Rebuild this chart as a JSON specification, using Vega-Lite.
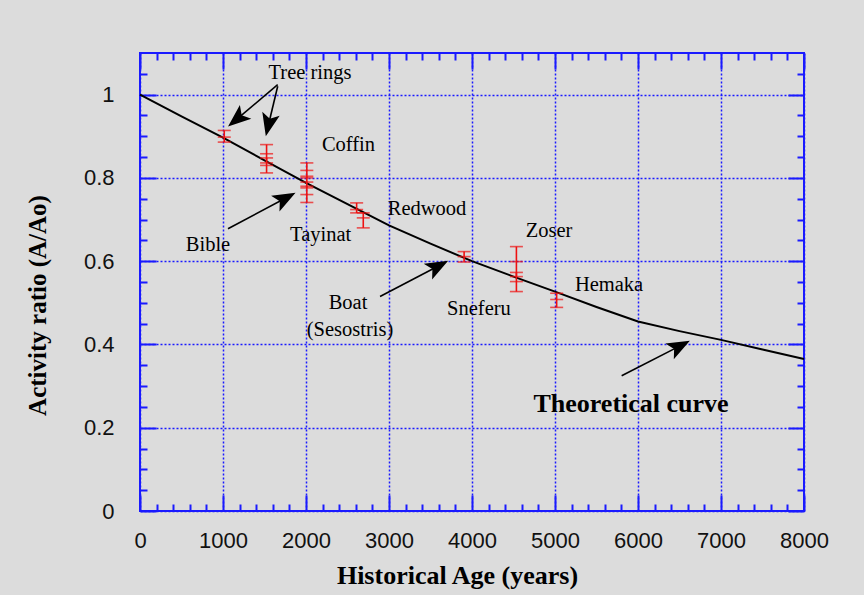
{
  "$schema": "https://vega.github.io/schema/vega-lite/v6.json",
  "width": 664,
  "height": 458,
  "autosize": "none",
  "padding": {"left": 140, "top": 53, "right": 60, "bottom": 84},
  "background": "#dcdcdc",
  "config": {
    "view": {"stroke": "#1a1aff", "strokeWidth": 2},
    "axis": {"labelFont": "Liberation Sans", "labelFontSize": 22, "labelColor": "#111111", "labelOverlap": false, "labelFlush": false, "tickColor": "#1a1aff", "tickWidth": 2, "domain": false, "grid": false, "title": null}
  },
  "datasets": {
    "curve": [
      {"age": 0, "ratio": 1.0}, {"age": 500, "ratio": 0.948}, {"age": 1000, "ratio": 0.897}, {"age": 1500, "ratio": 0.842},
      {"age": 2000, "ratio": 0.788}, {"age": 2500, "ratio": 0.737}, {"age": 3000, "ratio": 0.686}, {"age": 3500, "ratio": 0.642},
      {"age": 4000, "ratio": 0.600}, {"age": 4500, "ratio": 0.563}, {"age": 5000, "ratio": 0.527}, {"age": 5500, "ratio": 0.490},
      {"age": 6000, "ratio": 0.455}, {"age": 6500, "ratio": 0.432}, {"age": 7000, "ratio": 0.411}, {"age": 7500, "ratio": 0.388},
      {"age": 8000, "ratio": 0.365}
    ],
    "samples": [
      {"name": "Tree ring", "t": 1015, "v": 0.898, "lo": 0.886, "hi": 0.914},
      {"name": "Tree ring", "t": 1525, "v": 0.858, "lo": 0.836, "hi": 0.880},
      {"name": "Tree ring", "t": 1525, "v": 0.830, "lo": 0.812, "hi": 0.848},
      {"name": "Coffin", "t": 2010, "v": 0.818, "lo": 0.800, "hi": 0.836},
      {"name": "Bible", "t": 2010, "v": 0.790, "lo": 0.776, "hi": 0.804},
      {"name": "Tayinat", "t": 2010, "v": 0.760, "lo": 0.741, "hi": 0.780},
      {"name": "Redwood", "t": 2610, "v": 0.724, "lo": 0.716, "hi": 0.740},
      {"name": "Redwood", "t": 2690, "v": 0.704, "lo": 0.680, "hi": 0.716},
      {"name": "Boat (Sesostris)", "t": 3905, "v": 0.611, "lo": 0.598, "hi": 0.623},
      {"name": "Zoser", "t": 4535, "v": 0.599, "lo": 0.563, "hi": 0.635},
      {"name": "Sneferu", "t": 4535, "v": 0.551, "lo": 0.527, "hi": 0.573},
      {"name": "Hemaka", "t": 5020, "v": 0.508, "lo": 0.489, "hi": 0.523}
    ],
    "arrows": [
      {"name": "tree1", "tx": 1659, "ty": 1.024, "hx": 1143, "hy": 0.937},
      {"name": "tree2", "tx": 1659, "ty": 1.020, "hx": 1540, "hy": 0.921},
      {"name": "bible", "tx": 1060, "ty": 0.678, "hx": 1779, "hy": 0.754},
      {"name": "boat", "tx": 2892, "ty": 0.515, "hx": 3618, "hy": 0.591},
      {"name": "theory", "tx": 5803, "ty": 0.325, "hx": 6530, "hy": 0.399}
    ],
    "labels": [
      {"text": "Tree rings", "t": 2048, "v": 1.053},
      {"text": "Coffin", "t": 2512, "v": 0.880},
      {"text": "Redwood", "t": 3458, "v": 0.726},
      {"text": "Tayinat", "t": 2177, "v": 0.663},
      {"text": "Bible", "t": 819, "v": 0.639},
      {"text": "Zoser", "t": 4928, "v": 0.673},
      {"text": "Boat", "t": 2506, "v": 0.500},
      {"text": "(Sesostris)", "t": 2530, "v": 0.435},
      {"text": "Sneferu", "t": 4084, "v": 0.486},
      {"text": "Hemaka", "t": 5651, "v": 0.542}
    ],
    "curveLabel": [
      {"text": "Theoretical curve", "t": 5916, "v": 0.257}
    ]
  },
  "resolve": {"axis": {"x": "independent", "y": "independent"}},
  "layer": [
    {
      "data": {"name": "curve"},
      "mark": {"type": "line", "color": "#000000", "strokeWidth": 2},
      "encoding": {
        "x": {"field": "age", "type": "quantitative", "scale": {"domain": [0, 8000], "nice": false, "zero": false},
          "axis": {"orient": "bottom", "values": [0, 1000, 2000, 3000, 4000, 5000, 6000, 7000, 8000], "format": "d", "ticks": false, "labelPadding": 19,
            "grid": true, "gridColor": "#1a1aff", "gridDash": [2, 2], "gridWidth": 1.5,
            "title": "Historical Age (years)", "titleFont": "Liberation Serif", "titleFontWeight": "bold", "titleFontSize": 26, "titleColor": "#000000",
            "titleX": 317, "titleY": 64, "titleAlign": "center", "titleBaseline": "middle"}},
        "y": {"field": "ratio", "type": "quantitative", "scale": {"domain": [0, 1.1], "nice": false, "zero": false},
          "axis": {"orient": "left", "values": [0, 0.2, 0.4, 0.6, 0.8, 1], "format": "~g", "ticks": false, "labelPadding": 26,
            "grid": true, "gridColor": "#1a1aff", "gridDash": [2, 2], "gridWidth": 1.5,
            "title": "Activity ratio (A/Ao)", "titleFont": "Liberation Serif", "titleFontWeight": "bold", "titleFontSize": 25, "titleColor": "#000000",
            "titleAngle": 270, "titleX": -103, "titleY": 252, "titleAlign": "center", "titleBaseline": "middle"}}
      }
    },
    {
      "data": {"name": "samples"},
      "mark": {"type": "rule", "color": "#ee1111", "strokeWidth": 1.6},
      "encoding": {
        "x": {"field": "t", "type": "quantitative", "scale": {"domain": [0, 8000], "nice": false, "zero": false},
          "axis": {"orient": "bottom", "values": [0, 1000, 2000, 3000, 4000, 5000, 6000, 7000, 8000], "labels": false, "tickSize": -16}},
        "y": {"field": "lo", "type": "quantitative", "scale": {"domain": [0, 1.1], "nice": false, "zero": false},
          "axis": {"orient": "left", "values": [0, 0.2, 0.4, 0.6, 0.8, 1], "labels": false, "tickSize": -16}},
        "y2": {"field": "hi"}
      }
    },
    {
      "data": {"name": "samples"},
      "mark": {"type": "tick", "orient": "horizontal", "color": "#ee1111", "size": 13, "thickness": 1.6},
      "encoding": {
        "x": {"field": "t", "type": "quantitative", "scale": {"domain": [0, 8000], "nice": false, "zero": false},
          "axis": {"orient": "bottom", "labels": false, "tickSize": -7,
            "values": [200, 400, 600, 800, 1200, 1400, 1600, 1800, 2200, 2400, 2600, 2800, 3200, 3400, 3600, 3800, 4200, 4400, 4600, 4800, 5200, 5400, 5600, 5800, 6200, 6400, 6600, 6800, 7200, 7400, 7600, 7800]}},
        "y": {"field": "lo", "type": "quantitative", "scale": {"domain": [0, 1.1], "nice": false, "zero": false},
          "axis": {"orient": "left", "labels": false, "tickSize": -7,
            "values": [0.05, 0.1, 0.15, 0.25, 0.3, 0.35, 0.45, 0.5, 0.55, 0.65, 0.7, 0.75, 0.85, 0.9, 0.95, 1.05]}}
      }
    },
    {
      "data": {"name": "samples"},
      "mark": {"type": "tick", "orient": "horizontal", "color": "#ee1111", "size": 13, "thickness": 1.6},
      "encoding": {
        "x": {"field": "t", "type": "quantitative", "scale": {"domain": [0, 8000], "nice": false, "zero": false},
          "axis": {"orient": "top", "values": [0, 1000, 2000, 3000, 4000, 5000, 6000, 7000, 8000], "labels": false, "tickSize": -16}},
        "y": {"field": "hi", "type": "quantitative", "scale": {"domain": [0, 1.1], "nice": false, "zero": false},
          "axis": {"orient": "right", "values": [0, 0.2, 0.4, 0.6, 0.8, 1], "labels": false, "tickSize": -16}}
      }
    },
    {
      "data": {"name": "samples"},
      "mark": {"type": "tick", "orient": "horizontal", "color": "#ee1111", "size": 13, "thickness": 1.6},
      "encoding": {
        "x": {"field": "t", "type": "quantitative", "scale": {"domain": [0, 8000], "nice": false, "zero": false},
          "axis": {"orient": "top", "labels": false, "tickSize": -7,
            "values": [200, 400, 600, 800, 1200, 1400, 1600, 1800, 2200, 2400, 2600, 2800, 3200, 3400, 3600, 3800, 4200, 4400, 4600, 4800, 5200, 5400, 5600, 5800, 6200, 6400, 6600, 6800, 7200, 7400, 7600, 7800]}},
        "y": {"field": "v", "type": "quantitative", "scale": {"domain": [0, 1.1], "nice": false, "zero": false},
          "axis": {"orient": "right", "labels": false, "tickSize": -7,
            "values": [0.05, 0.1, 0.15, 0.25, 0.3, 0.35, 0.45, 0.5, 0.55, 0.65, 0.7, 0.75, 0.85, 0.9, 0.95, 1.05]}}
      }
    },
    {
      "data": {"name": "arrows"},
      "mark": {"type": "rule", "color": "#000000", "strokeWidth": 1.6},
      "encoding": {
        "x": {"field": "tx", "type": "quantitative", "axis": null},
        "y": {"field": "ty", "type": "quantitative", "axis": null},
        "x2": {"field": "hx"},
        "y2": {"field": "hy"}
      }
    },
    {
      "data": {"name": "arrows"},
      "transform": [{"filter": "datum.name === 'tree1'"}],
      "mark": {"type": "point", "shape": "M0,-0.7L0.7,1.1L0,0.7L-0.7,1.1Z", "filled": true, "color": "#000000", "opacity": 1, "size": 650, "angle": 230},
      "encoding": {
        "x": {"field": "hx", "type": "quantitative", "axis": null},
        "y": {"field": "hy", "type": "quantitative", "axis": null}
      }
    },
    {
      "data": {"name": "arrows"},
      "transform": [{"filter": "datum.name === 'tree2'"}],
      "mark": {"type": "point", "shape": "M0,-0.7L0.7,1.1L0,0.7L-0.7,1.1Z", "filled": true, "color": "#000000", "opacity": 1, "size": 650, "angle": 193},
      "encoding": {
        "x": {"field": "hx", "type": "quantitative", "axis": null},
        "y": {"field": "hy", "type": "quantitative", "axis": null}
      }
    },
    {
      "data": {"name": "arrows"},
      "transform": [{"filter": "datum.name !== 'tree1' && datum.name !== 'tree2'"}],
      "mark": {"type": "point", "shape": "M0,-0.7L0.7,1.1L0,0.7L-0.7,1.1Z", "filled": true, "color": "#000000", "opacity": 1, "size": 650, "angle": 62},
      "encoding": {
        "x": {"field": "hx", "type": "quantitative", "axis": null},
        "y": {"field": "hy", "type": "quantitative", "axis": null}
      }
    },
    {
      "data": {"name": "labels"},
      "mark": {"type": "text", "font": "Liberation Serif", "fontSize": 20.5, "color": "#000000", "align": "center", "baseline": "middle"},
      "encoding": {
        "x": {"field": "t", "type": "quantitative", "axis": null},
        "y": {"field": "v", "type": "quantitative", "axis": null},
        "text": {"field": "text"}
      }
    },
    {
      "data": {"name": "curveLabel"},
      "mark": {"type": "text", "font": "Liberation Serif", "fontSize": 26, "fontWeight": "bold", "color": "#000000", "align": "center", "baseline": "middle"},
      "encoding": {
        "x": {"field": "t", "type": "quantitative", "axis": null},
        "y": {"field": "v", "type": "quantitative", "axis": null},
        "text": {"field": "text"}
      }
    }
  ]
}
